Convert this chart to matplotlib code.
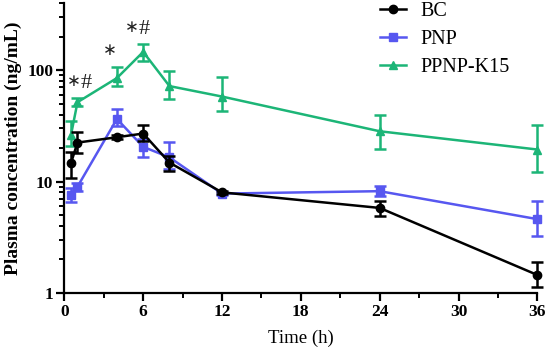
import numpy as np
import matplotlib.pyplot as plt
from matplotlib.lines import Line2D
from matplotlib.ticker import LogLocator, NullFormatter

plt.rcParams['font.family'] = ['Liberation Serif', 'DejaVu Sans']

# sampling times (h)
time = [0.5, 1, 4, 6, 8, 12, 24, 36]

# mean plasma concentration (ng/mL) and error bar ends
bc = [14.6, 22.4, 25.0, 27.0, 14.8, 8.0, 5.8, 1.45]
bc_lo = [10.8, 18.2, 24.0, 23.0, 12.5, 7.7, 4.9, 1.13]
bc_hi = [18.6, 27.6, 26.0, 32.0, 16.8, 8.3, 6.7, 1.9]

pnp = [7.6, 9.0, 36.5, 20.5, 16.5, 7.8, 8.2, 4.6]
pnp_lo = [6.6, 8.3, 31.3, 16.5, 13.0, 7.5, 7.4, 3.25]
pnp_hi = [8.8, 9.8, 44.6, 23.9, 22.6, 8.1, 9.1, 6.7]

ppnp = [26.0, 51.6, 85.0, 146.0, 72.0, 58.0, 28.3, 19.4]
ppnp_lo = [20.8, 48.0, 72.0, 120.0, 55.0, 43.0, 19.8, 12.3]
ppnp_hi = [34.8, 56.0, 106.0, 171.0, 98.0, 86.0, 40.0, 32.0]

labels = ['BC', 'PNP', 'PPNP-K15']
colors = ['black', '#5757f0', '#1cb577']
markers = ['o', 's', '^']

# significance marks above PPNP-K15: time index, with/without '#', star shift
sig_idx = [1, 2, 3]
sig_hash = [True, False, True]
sig_dx = [-0.25, -0.55, -0.85]

fig = plt.figure(figsize=(5.5, 3.5), dpi=100)
ax = fig.add_axes([0.117, 0.163, 0.86, 0.828])

series = [(bc, bc_lo, bc_hi), (pnp, pnp_lo, pnp_hi), (ppnp, ppnp_lo, ppnp_hi)]
zorders = [5, 3, 4]
handles = []
for (y, lo, hi), lab, c, m, z in zip(series, labels, colors, markers, zorders):
    y = np.array(y)
    err = [y - np.array(lo), np.array(hi) - y]
    ax.errorbar(time, y, yerr=err, color=c, marker=m, markersize=6,
                linewidth=1.8, elinewidth=1.8, capsize=4, capthick=1.8,
                zorder=z, clip_on=False)
    handles.append(Line2D([], [], color=c, marker=m, markersize=6,
                          linewidth=1.8, label=lab))

for i, h, dx in zip(sig_idx, sig_hash, sig_dx):
    yy = ppnp_hi[i] * 1.42
    ax.text(time[i] + dx, yy, '\u2217', ha='center', va='center',
            fontsize=12, color='#222222', family='DejaVu Sans')
    if h:
        ax.text(time[i] + dx + 0.5, yy * 0.96, '#', ha='left', va='center',
                fontsize=16, color='#222222')

ax.set_yscale('log')
ax.set_ylim(1, 400)
ax.set_xlim(0, 36)
ax.set_xticks(range(0, 37, 6))
ax.set_xticks(range(3, 36, 6), minor=True)
ax.set_yticks([1, 10, 100])
ax.set_yticklabels(['1', '10', '100'])
ax.yaxis.set_minor_locator(LogLocator(base=10, subs=np.arange(2, 10)))
ax.yaxis.set_minor_formatter(NullFormatter())

for s in ['top', 'right']:
    ax.spines[s].set_visible(False)
for s in ['left', 'bottom']:
    ax.spines[s].set_linewidth(1.6)
ax.tick_params(which='major', length=6, width=1.6, labelsize=12.5, pad=2)
ax.tick_params(which='minor', length=3.5, width=1.4)
for lbl in ax.get_xticklabels() + ax.get_yticklabels():
    lbl.set_fontweight('bold')

ax.set_xlabel('Time (h)', fontsize=13.5, labelpad=7)
ax.set_ylabel('Plasma concentration (ng/mL)', fontsize=14, fontweight='bold',
              labelpad=4)

ax.legend(handles=handles, loc='upper left',
          bbox_to_anchor=(380 / 550, 1 - 2 / 350),
          bbox_transform=fig.transFigure, frameon=False, fontsize=14.5,
          borderpad=0, borderaxespad=0, handlelength=1.3, handletextpad=0.7,
          labelspacing=0.45)

plt.savefig('out.png', dpi=100)
